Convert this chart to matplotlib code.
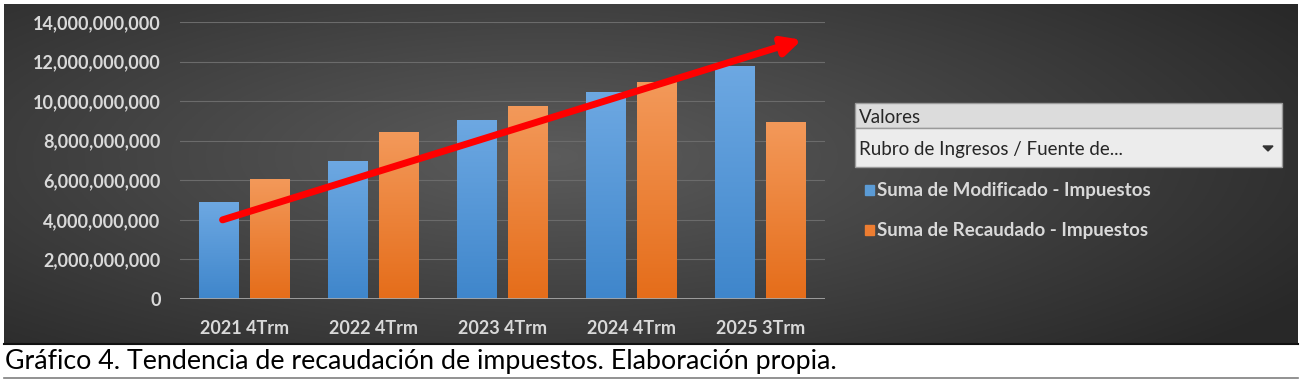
import numpy as np
import matplotlib.pyplot as plt
from matplotlib.patches import Rectangle, Polygon
from matplotlib.ticker import FuncFormatter

categories = ["2021 4Trm", "2022 4Trm", "2023 4Trm", "2024 4Trm", "2025 3Trm"]
modificado = [4.90e9, 6.97e9, 9.05e9, 10.46e9, 11.78e9]
recaudado = [6.07e9, 8.44e9, 9.75e9, 10.97e9, 8.95e9]
series_names = ["Suma de Modificado - Impuestos", "Suma de Recaudado - Impuestos"]
yticks = np.arange(0, 14e9 + 1, 2e9)
caption = "Gráfico 4. Tendencia de recaudación de impuestos. Elaboración propia."

W, H = 1303, 389
fig = plt.figure(figsize=(W / 100, H / 100), dpi=100)
fig.patch.set_facecolor("white")

# overlay in pixel coordinates (y downwards)
ov = fig.add_axes([0, 0, 1, 1])
ov.set_xlim(0, W)
ov.set_ylim(H, 0)
ov.axis("off")

# dark radial-gradient panel
yy, xx = np.mgrid[0:1:200j, 0:1:600j]
r = np.sqrt(((xx - 0.42) / 0.75) ** 2 + ((yy - 0.45) / 0.9) ** 2)
shade = np.clip(0.36 - 0.22 * r, 0.16, 0.36)
ov.imshow(np.dstack([shade] * 3), extent=(4, 1298, 343, 4), aspect="auto", zorder=0)
ov.plot([4, 1298], [343.5, 343.5], color="#111111", lw=1.5, zorder=1)
ov.plot([4, 1298], [378, 378], color="#7f7f7f", lw=1.2, zorder=1)
ov.text(5, 361, caption, fontsize=19.3, family="Lato", color="black", va="center", ha="left")

# chart axes
ax = fig.add_axes([180 / W, (H - 299) / H, 645 / W, 277 / H])
ax.set_facecolor("none")
ax.set_zorder(2)
x = np.arange(len(categories))
bw = 0.31
off = 0.195


def grad_bars(xs, vals, top, bottom):
    bars = ax.bar(xs, vals, bw, color=bottom, zorder=3)
    grad = np.linspace(0, 1, 100)[:, None]
    c1, c2 = np.array(plt.matplotlib.colors.to_rgb(top)), np.array(plt.matplotlib.colors.to_rgb(bottom))
    img = c1[None, None, :] * (1 - grad[..., None]) + c2[None, None, :] * grad[..., None]
    for b in bars:
        bx, by, bwid, bh = b.get_x(), b.get_y(), b.get_width(), b.get_height()
        im = ax.imshow(img, extent=(bx, bx + bwid, by, by + bh), aspect="auto", zorder=3.5)
        im.set_clip_path(b)
    return bars


grad_bars(x - off, modificado, "#6da8e2", "#3f86cb")
grad_bars(x + off, recaudado, "#f3995a", "#e56d1a")

ax.set_xlim(-0.5, len(categories) - 0.5)
ax.set_ylim(0, 14e9)
ax.set_yticks(yticks)
ax.yaxis.set_major_formatter(FuncFormatter(lambda v, p: f"{v:,.0f}"))
ax.set_xticks(x)
ax.set_xticklabels(categories)
ax.grid(axis="y", color="#6b6b6b", lw=0.8, zorder=1)
ax.axhline(0, color="#a6a6a6", lw=2, zorder=4)
for s in ax.spines.values():
    s.set_visible(False)
ax.tick_params(length=0, colors="#d9d9d9", labelsize=13, pad=14)
ax.tick_params(axis="x", pad=15)
for lab in ax.get_xticklabels() + ax.get_yticklabels():
    lab.set_family("Lato")
    lab.set_fontweight("bold")

# red trend arrow
ax.annotate("", xy=(4.32, 13.1e9), xytext=(-0.17, 4.0e9),
            arrowprops=dict(arrowstyle="-|>,head_length=1.1,head_width=0.55", color="#ff0000", lw=5,
                            shrinkA=0, shrinkB=0), zorder=6)

# legend panel
ov.add_patch(Rectangle((855, 103), 427, 25, facecolor="#dcdcdc", edgecolor="#9a9a9a", lw=1, zorder=2))
ov.add_patch(Rectangle((855, 128), 427, 39, facecolor="#ececec", edgecolor="#9a9a9a", lw=1, zorder=2))
ov.text(859, 117, "Valores", fontsize=13.5, family="Lato", color="#262626", va="center", zorder=3)
ov.text(859, 149, "Rubro de Ingresos / Fuente de...", fontsize=13.5, family="Lato", color="#262626",
        va="center", zorder=3)
ov.add_patch(Polygon([[1263, 146], [1273, 146], [1268, 151]], closed=True, color="#333333", zorder=3))
for yc, name, col in zip([190, 230], series_names, ["#5b9bd5", "#ed7d31"]):
    ov.add_patch(Rectangle((865, yc - 5), 9, 10, color=col, zorder=3))
    ov.text(877, yc, name, fontsize=13.5, family="Lato", fontweight="bold", color="#d9d9d9",
            va="center", zorder=3)

fig.savefig("out.png", dpi=100)
